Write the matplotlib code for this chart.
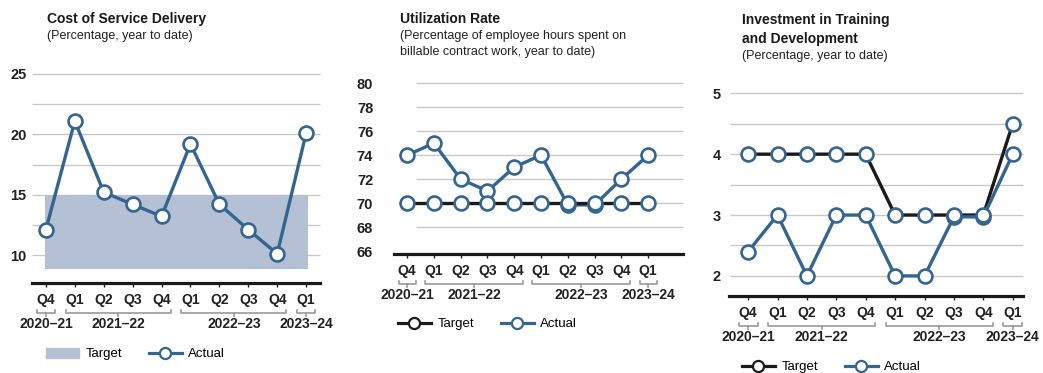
import matplotlib
matplotlib.use('Agg')
import matplotlib.pyplot as plt
from matplotlib.lines import Line2D
from matplotlib.patches import Patch

plt.rcParams['font.family'] = ['Liberation Sans', 'DejaVu Sans']

quarters = ['Q4', 'Q1', 'Q2', 'Q3', 'Q4', 'Q1', 'Q2', 'Q3', 'Q4', 'Q1']
years = ['2020–21', '2021–22', '2022–23', '2023–24']
year_spans = [(0, 0), (1, 4), (5, 8), (9, 9)]

# Cost of Service Delivery
cost_actual = [12.1, 21.1, 15.2, 14.2, 13.2, 19.2, 14.2, 12.1, 10.1, 20.1]
cost_target_low = 8.8
cost_target_high = 15
cost_ticks = [10, 15, 20, 25]
cost_grid = [10, 12.5, 15, 17.5, 20, 22.5, 25]

# Utilization Rate
util_actual = [74, 75, 72, 71, 73, 74, 69.85, 69.85, 72, 74]
util_target = [70, 70, 70, 70, 70, 70, 70, 70, 70, 70]
util_ticks = [66, 68, 70, 72, 74, 76, 78, 80]
util_grid = [68, 70, 72, 74, 76, 78, 80]

# Investment in Training and Development
train_actual = [2.4, 3, 2, 3, 3, 2, 2, 2.97, 2.97, 4]
train_target = [4, 4, 4, 4, 4, 3, 3, 3, 3, 4.5]
train_ticks = [2, 3, 4, 5]
train_grid = [2, 2.5, 3, 3.5, 4, 4.5, 5]

BLUE = '#346591'
BAND = '#b4c0d3'
GRID = '#c8c8c8'
BRACKET = '#9a9a9a'
W, H = 1043, 373

fig = plt.figure(figsize=(W / 100, H / 100), dpi=100)


def make_axes(left, right, top, bottom):
    return fig.add_axes([left / W, 1 - bottom / H, (right - left) / W, (bottom - top) / H])


def style(ax, xlim, ylim, ticks, grid, gx0, gx1, ypad):
    ax.set_xlim(*xlim)
    ax.set_ylim(*ylim)
    for s in ['top', 'right', 'left']:
        ax.spines[s].set_visible(False)
    ax.spines['bottom'].set_linewidth(2.3)
    ax.spines['bottom'].set_color('#1a1a1a')
    ax.hlines(grid, gx0, gx1, color=GRID, lw=1, zorder=0, clip_on=False)
    ax.set_yticks(ticks)
    ax.set_yticklabels([str(t) for t in ticks], fontweight='bold', fontsize=10.5, color='#222222')
    ax.tick_params(axis='y', length=0, pad=ypad)
    ax.set_xticks(range(len(quarters)))
    ax.set_xticklabels(quarters, fontweight='bold', fontsize=10, color='#222222')
    ax.tick_params(axis='x', length=3, width=1, pad=4.5, color='#1a1a1a')
    # year brackets
    hpx = ax.get_position().height * H
    yb = -30 / hpx
    tk = 3 / hpx
    for (a, b), yr in zip(year_spans, years):
        x0, x1 = a - 0.32, b + 0.32
        xc = (x0 + x1) / 2
        ax.plot([x0, x0, x1, x1], [yb + tk, yb, yb, yb + tk], color=BRACKET, lw=1.2,
                transform=ax.get_xaxis_transform(), clip_on=False)
        ax.plot([xc, xc], [yb, yb - tk], color=BRACKET, lw=1.2,
                transform=ax.get_xaxis_transform(), clip_on=False)
        ax.annotate(yr, xy=(xc, 0), xycoords=('data', 'axes fraction'), xytext=(0, -41),
                    textcoords='offset pixels', ha='center', va='center',
                    fontweight='bold', fontsize=10, color='#222222')


def titles(x, lines_bold, lines_reg, y0):
    y = y0
    for t in lines_bold:
        fig.text(x / W, 1 - y / H, t, fontweight='bold', fontsize=10, color='#1a1a1a', va='baseline')
        y += 18.5
    y -= 2
    for t in lines_reg:
        fig.text(x / W, 1 - y / H, t, fontsize=9, color='#222222', va='baseline')
        y += 16


def marker_line(color, mec):
    return Line2D([], [], color=color, lw=2.3, marker='o', ms=8, mfc='white', mec=mec, mew=1.6)


def legend(ax, handles, labels, x, y):
    ax.legend(handles, labels, loc='center left', bbox_to_anchor=(x / W, 1 - y / H),
              bbox_transform=fig.transFigure, ncol=2, frameon=False, fontsize=9.5,
              handlelength=2.5, handleheight=0.8, handletextpad=0.5, columnspacing=2.0,
              borderpad=0, borderaxespad=0)


x = list(range(len(quarters)))
mk = dict(marker='o', ms=10, mfc='white', mew=1.9)

# chart 1
ax1 = make_axes(32, 320, 74, 283)
style(ax1, (-0.48, 9.48), (7.68, 25), cost_ticks, cost_grid, -0.48, 9.48, 4)
ax1.fill_between([-0.04, 9.06], cost_target_low, cost_target_high, color=BAND, lw=0, zorder=1)
ax1.plot(x, cost_actual, color=BLUE, lw=2.4, mec=BLUE, zorder=3, clip_on=False, **mk)
titles(47, ['Cost of Service Delivery'], ['(Percentage, year to date)'], 23)
legend(ax1, [Patch(color=BAND), marker_line(BLUE, BLUE)], ['Target', 'Actual'], 46, 354)

# chart 2
ax2 = make_axes(394, 683, 83.3, 254)
style(ax2, (-0.49, 10.3), (65.75, 80), util_ticks, util_grid, 0.32, 10.3, 15)
ax2.plot(x, util_actual, color=BLUE, lw=2.4, zorder=2, clip_on=False)
ax2.plot(x, util_target, color='#1a1a1a', lw=2.4, zorder=3, clip_on=False)
ax2.plot(x, util_actual, ls='none', mec=BLUE, zorder=4, clip_on=False, **mk)
ax2.plot(x, util_target, ls='none', mec=BLUE, zorder=5, clip_on=False, **mk)
titles(400, ['Utilization Rate'], ['(Percentage of employee hours spent on',
                                   'billable contract work, year to date)'], 23)
legend(ax2, [marker_line('#1a1a1a', '#1a1a1a'), marker_line(BLUE, BLUE)], ['Target', 'Actual'], 398, 324)

# chart 3
ax3 = make_axes(729, 1023, 93.3, 296)
style(ax3, (-0.65, 9.35), (1.67, 5), train_ticks, train_grid, -0.62, 9.35, 6)
ax3.plot(x, train_target, color='#1a1a1a', lw=2.4, zorder=2, clip_on=False)
ax3.plot(x, train_actual, color=BLUE, lw=2.4, zorder=3, clip_on=False)
ax3.plot(x, train_actual, ls='none', mec=BLUE, zorder=4, clip_on=False, **mk)
ax3.plot(x, train_target, ls='none', mec=BLUE, zorder=5, clip_on=False, **mk)
titles(742, ['Investment in Training', 'and Development'], ['(Percentage, year to date)'], 24)
legend(ax3, [marker_line('#1a1a1a', '#1a1a1a'), marker_line(BLUE, BLUE)], ['Target', 'Actual'], 742, 367)

fig.savefig('out.png', dpi=100)
